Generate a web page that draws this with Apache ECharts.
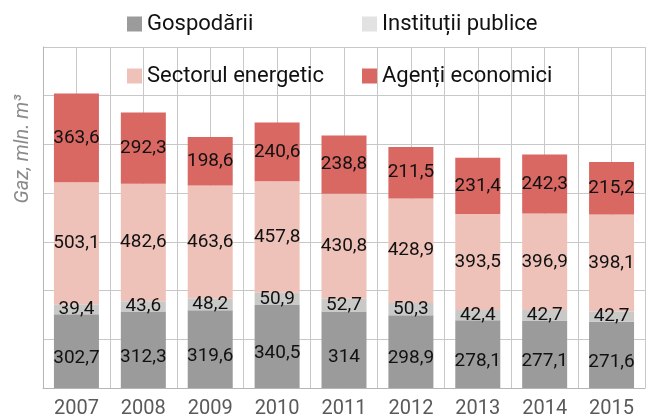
<!DOCTYPE html>
<html>
<head>
<meta charset="utf-8">
<script src="https://cdn.jsdelivr.net/npm/echarts@6/dist/echarts.min.js"></script>
<style>
  html, body { margin: 0; padding: 0; background: #fff; }
  #chart { width: 647px; height: 420px; }
</style>
</head>
<body>
<div id="chart"></div>
<script>
const years = ['2007', '2008', '2009', '2010', '2011', '2012', '2013', '2014', '2015'];
const gospodarii = [302.7, 312.3, 319.6, 340.5, 314, 298.9, 278.1, 277.1, 271.6];
const institutii = [39.4, 43.6, 48.2, 50.9, 52.7, 50.3, 42.4, 42.7, 42.7];
const sectorul = [503.1, 482.6, 463.6, 457.8, 430.8, 428.9, 393.5, 396.9, 398.1];
const agenti = [363.6, 292.3, 198.6, 240.6, 238.8, 211.5, 231.4, 242.3, 215.2];

const font = 'Roboto';
const chart = echarts.init(document.getElementById('chart'));

const fmt = p => String(p.value).replace('.', ',');

function barSeries(name, data, color, offset) {
    return {
        name: name,
        type: 'bar',
        stack: 'total',
        barWidth: 45,
        data: data,
        itemStyle: { color: color },
        label: {
            show: true,
            position: 'inside',
            offset: offset || [0, 0],
            formatter: fmt,
            color: '#111',
            fontFamily: font,
            fontSize: 19
        }
    };
}

function legendAt(name, left, top, iconColor) {
    return {
        data: [{ name: name, itemStyle: { color: iconColor } }],
        left: left,
        top: top,
        icon: 'rect',
        itemWidth: 15,
        itemHeight: 15,
        itemGap: 6,
        selectedMode: false,
        textStyle: { fontFamily: font, fontSize: 22, color: '#111' }
    };
}

const option = {
    animation: false,
    legend: [
        legendAt('Gospodării', 122, 8, '#9b9b9b'),
        legendAt('Instituții publice', 357, 8, '#e2e2e2'),
        legendAt('Sectorul energetic', 122, 60, '#eec2b9'),
        legendAt('Agenți economici', 357, 60, '#d96762')
    ],
    grid: { left: 43, right: 2, top: 47, bottom: 32 },
    xAxis: [
        {
            type: 'category',
            data: years,
            axisLine: { show: true, lineStyle: { color: '#b5b5b5', width: 1 } },
            axisTick: { show: false },
            splitLine: { show: false },
            axisLabel: { color: '#5a5a5a', fontFamily: font, fontSize: 20, margin: 11 }
        },
        {
            type: 'value',
            min: 0,
            max: 18,
            interval: 1,
            position: 'top',
            axisLine: { show: false },
            axisTick: { show: false },
            axisLabel: { show: false },
            splitLine: { show: true, lineStyle: { color: '#c8c8c8', width: 1 } }
        }
    ],
    yAxis: {
        type: 'value',
        min: 0,
        max: 1400,
        interval: 200,
        axisLine: { show: true, lineStyle: { color: '#b5b5b5', width: 1 } },
        axisTick: { show: false },
        axisLabel: { show: false },
        splitLine: { show: true, lineStyle: { color: '#c8c8c8', width: 1 } }
    },
    graphic: [{
        type: 'text',
        x: 23,
        y: 149,
        rotation: Math.PI / 2,
        style: {
            text: 'Gaz, mln. m³',
            fontFamily: font,
            fontStyle: 'italic',
            fontSize: 20,
            fill: '#8a8a8a',
            align: 'center',
            verticalAlign: 'middle'
        }
    }],
    series: [
        barSeries('Gospodării', gospodarii, '#9b9b9b', [0, 7]),
        barSeries('Instituții publice', institutii, '#c9cac8'),
        barSeries('Sectorul energetic', sectorul, '#eec2b9'),
        barSeries('Agenți economici', agenti, '#d96762')
    ]
};

chart.setOption(option);
</script>
</body>
</html>
